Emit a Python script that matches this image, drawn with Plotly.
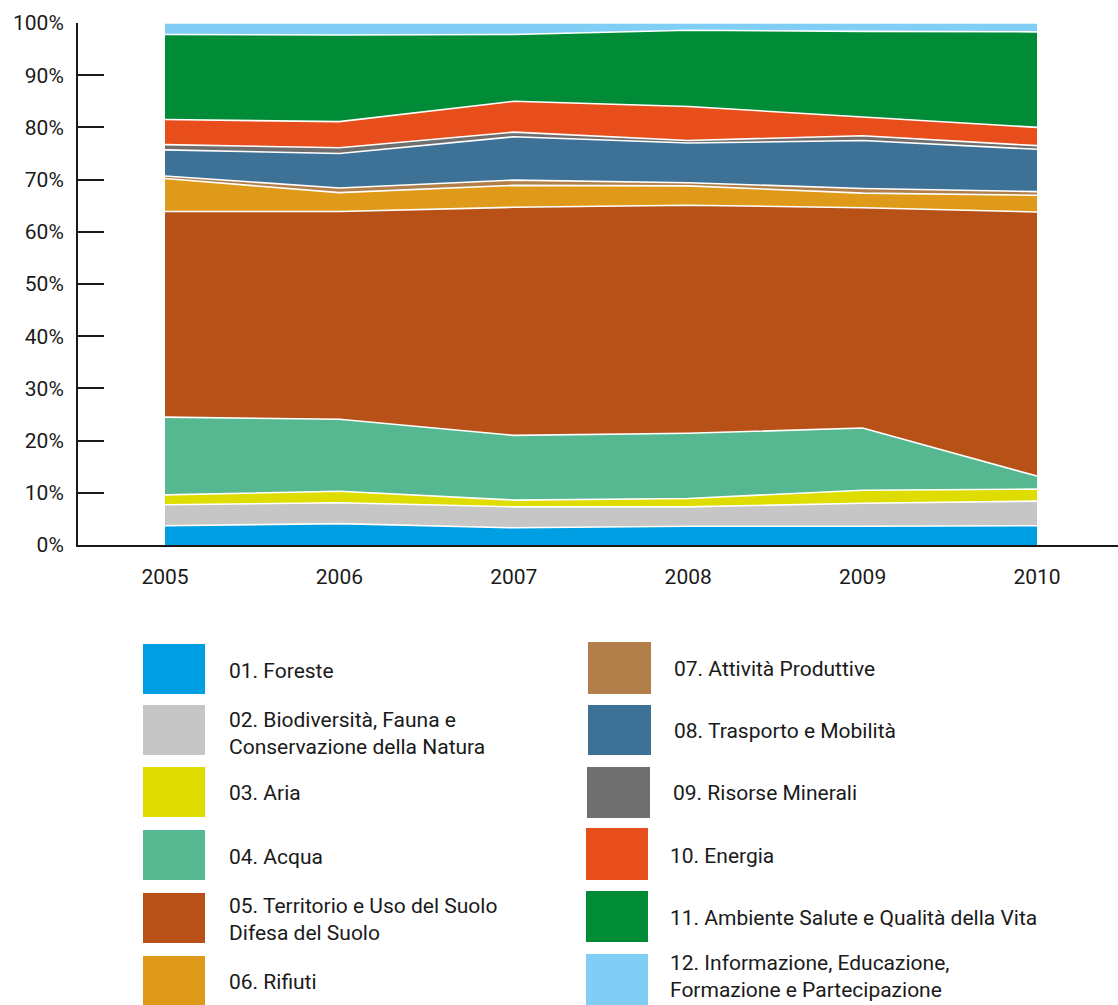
import plotly.graph_objects as go

# Share of spending by environmental theme (%), 2005-2010
years = [2005, 2006, 2007, 2008, 2009, 2010]

foreste = [3.7, 4.1, 3.3, 3.6, 3.6, 3.7]
biodiversita = [4.0, 4.0, 4.0, 3.7, 4.4, 4.7]
aria = [1.9, 2.2, 1.3, 1.6, 2.5, 2.3]
acqua = [14.9, 13.8, 12.4, 12.5, 11.9, 2.5]
territorio = [39.4, 39.8, 43.7, 43.7, 42.2, 50.6]
rifiuti = [6.3, 3.6, 4.2, 3.7, 2.8, 3.2]
attivita = [0.5, 0.9, 1.0, 0.6, 0.9, 0.7]
trasporto = [5.0, 6.6, 8.3, 7.6, 9.2, 8.1]
risorse = [1.0, 1.1, 0.9, 0.5, 0.9, 0.7]
energia = [4.8, 5.0, 5.9, 6.5, 3.6, 3.5]
ambiente = [16.3, 16.6, 12.8, 14.6, 16.4, 18.3]
informazione = [2.2, 2.3, 2.2, 1.4, 1.6, 1.7]

series_names = [
    "01. Foreste",
    "02. Biodiversità, Fauna e<br>Conservazione della Natura",
    "03. Aria",
    "04. Acqua",
    "05. Territorio e Uso del Suolo<br>Difesa del Suolo",
    "06. Rifiuti",
    "07. Attività Produttive",
    "08. Trasporto e Mobilità",
    "09. Risorse Minerali",
    "10. Energia",
    "11. Ambiente Salute e Qualità della Vita",
    "12. Informazione, Educazione,<br>Formazione e Partecipazione",
]
series_values = [foreste, biodiversita, aria, acqua, territorio, rifiuti,
                 attivita, trasporto, risorse, energia, ambiente, informazione]
colors = ["#009fe3", "#c6c6c6", "#dfdc00", "#56b890", "#b85118", "#e09a19",
          "#b27f4a", "#3e7196", "#6f6f6f", "#e84e1b", "#008c36", "#80cef5"]

y_tickvals = [0, 10, 20, 30, 40, 50, 60, 70, 80, 90, 100]
y_ticktext = ["0%", "10%", "20%", "30%", "40%", "50%", "60%", "70%", "80%", "90%", "100%"]

W, H = 1118, 1005
ML, MR, MT, MB = 78, 0, 23, 460
PW, PH = W - ML - MR, H - MT - MB

FONT = "Roboto, 'Noto Sans', sans-serif"
TXT = "#1a1a1a"
FS = 21

fig = go.Figure()
for name, vals, col in zip(series_names, series_values, colors):
    fig.add_trace(go.Scatter(
        x=years, y=vals, name=name.replace("<br>", " "),
        stackgroup="one", mode="lines",
        line=dict(color="white", width=1.6),
        fillcolor=col, showlegend=False,
    ))


def px_x(px):
    return (px - ML) / PW


def px_y(py):
    return (H - MB - py) / PH


# Legend drawn as swatches + labels in two columns
legend_layout = [
    # (swatch x0, x1, y0, y1, text x, text center y)
    (143, 205, 644, 694, 227, 671),
    (143, 205, 705, 755, 227, 733),
    (143, 205, 767, 817, 227, 793),
    (143, 205, 830, 880, 227, 857),
    (143, 205, 893, 943, 227, 919),
    (143, 205, 956, 1005, 227, 982),
    (588, 651, 642, 694, 672, 669),
    (588, 651, 705, 755, 672, 731),
    (587, 650, 767, 818, 671, 793),
    (586, 648, 828, 880, 668, 856),
    (586, 648, 891, 942, 668, 918),
    (586, 648, 954, 1005, 668, 976),
]
shapes = []
annotations = []
for (x0, x1, y0, y1, tx, ty), name, col in zip(legend_layout, series_names, colors):
    shapes.append(dict(type="rect", xref="paper", yref="paper",
                       x0=px_x(x0), x1=px_x(x1), y0=px_y(y1), y1=px_y(y0),
                       fillcolor=col, line=dict(width=0)))
    annotations.append(dict(xref="paper", yref="paper", x=px_x(tx), y=px_y(ty),
                            xanchor="left", yanchor="middle", align="left",
                            text=name, showarrow=False,
                            font=dict(family=FONT, size=FS, color=TXT)))

# x range so that 2005 sits at px 165 and 2010 at px 1037
step = (1037 - 165) / 5
x_lo = 2005 - (165 - ML) / step
x_hi = 2010 + (W - MR - 1037) / step

fig.update_layout(
    width=W, height=H,
    margin=dict(l=ML, r=MR, t=MT, b=MB, pad=0),
    paper_bgcolor="white", plot_bgcolor="white",
    font=dict(family=FONT, size=FS, color=TXT),
    shapes=shapes, annotations=annotations,
    xaxis=dict(range=[x_lo, x_hi], tickvals=years, ticktext=[str(y) for y in years],
               showgrid=False, zeroline=False, showline=True, linecolor="#1a1a1a",
               linewidth=2, ticks="", ticklabelstandoff=12, layer="below traces",
               tickfont=dict(family=FONT, size=FS, color=TXT), fixedrange=True),
    yaxis=dict(range=[0, 100], tickvals=y_tickvals, ticktext=y_ticktext,
               showgrid=False, zeroline=False, showline=True, linecolor="#1a1a1a",
               linewidth=2, ticks="inside", ticklen=26, tickwidth=2, tickcolor="#1a1a1a",
               ticklabelstandoff=8,
               tickfont=dict(family=FONT, size=FS, color=TXT), fixedrange=True),
)

fig.write_html("out.html")
